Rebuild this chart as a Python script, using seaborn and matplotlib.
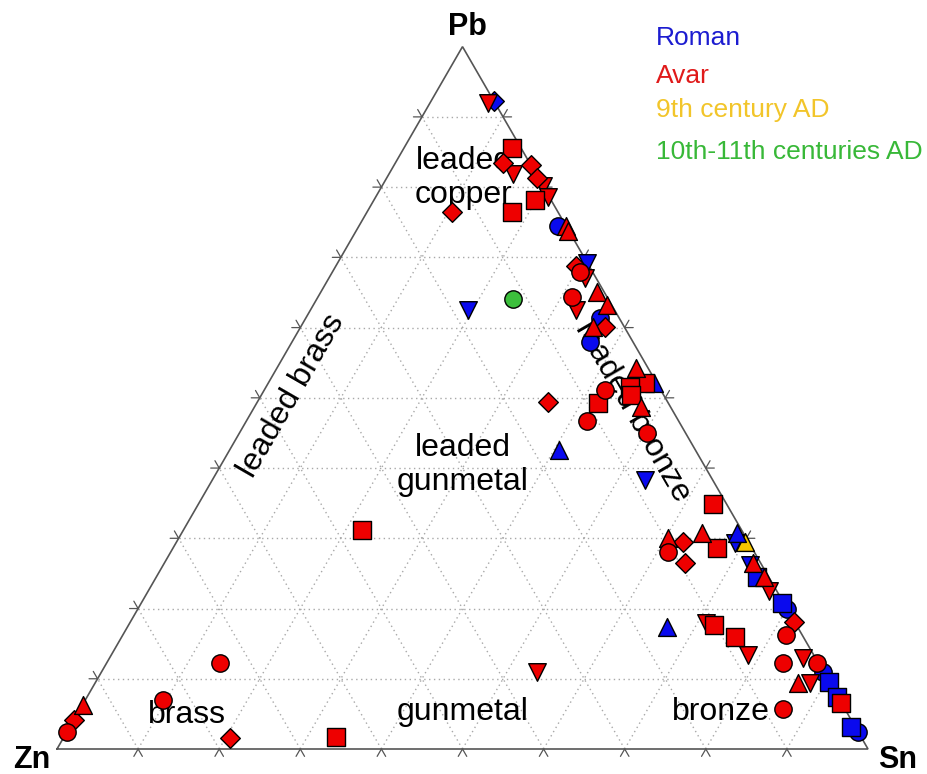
import numpy as np
import pandas as pd
import matplotlib
matplotlib.use("Agg")
import matplotlib.pyplot as plt
import seaborn as sns

sns.set_theme(style="white")
plt.rcParams['font.family'] = ['Liberation Sans', 'DejaVu Sans']

# Compositions in percent (Pb, Sn, Zn) with marker shape for each object
roman_marker = ['D', 'o', 'v', 'o', 'o', '^', 'v', '^', 'v', '^', 'v',
                'v', 's', 's', 'o', '^', 'o', 's', 's', 's', 'o']
roman_pb = [92.3, 74.4, 69.2, 61.4, 58.0, 52.1, 62.5, 42.6, 38.3, 30.8, 29.3,
            26.2, 24.5, 20.8, 19.9, 17.4, 11.0, 9.5, 7.4, 3.1, 2.4]
roman_sn = [7.7, 24.6, 30.8, 36.3, 36.7, 47.6, 19.4, 40.6, 53.3, 68.4, 68.9,
            72.3, 74.1, 79.0, 80.1, 66.5, 89.0, 90.5, 92.5, 96.4, 97.6]
roman_zn = [0.0, 1.0, 0.0, 2.3, 5.3, 0.3, 18.1, 16.8, 8.4, 0.8, 1.8,
            1.5, 1.4, 0.2, 0.0, 16.1, 0.0, 0.0, 0.1, 0.5, 0.0]

avar_marker = ['v', 's', 'D', 'v', 'D', 'D', 'v', 'v', 's', 's', 'D',
               '^', '^', 'D', 'o', 'v', 'o', 'v', '^', '^', '^', 'D',
               '^', 's', 's', 's', 'o', 's', '^', 'D', 'o', 'o',
               's', '^', 'D', 'o', 'D', '^', 's', '^', '^', 'v',
               'D', 'o', 'v', 's', 's', 'v', 'o', 'v', 'o', '^',
               'v', 's', 'o', 'o', 'o', 'D', 's', 'v', 's', 'o', 'D', '^']
avar_pb = [92.0, 85.6, 83.5, 81.8, 83.2, 81.3, 80.1, 78.6, 78.2, 76.5, 76.5,
           74.4, 73.8, 68.7, 67.9, 67.1, 64.4, 62.5, 65.0, 63.2, 60.1, 60.1,
           54.3, 52.1, 51.6, 50.4, 51.1, 49.3, 48.7, 49.4, 46.7, 45.0,
           34.9, 30.1, 29.5, 28.1, 26.5, 30.8, 28.6, 26.5, 24.5, 22.5,
           18.1, 16.2, 17.9, 17.7, 16.0, 13.4, 12.3, 13.0, 12.3, 9.4,
           9.4, 6.6, 5.7, 12.3, 7.0, 1.6, 1.7, 11.0, 31.2, 2.4, 4.1, 6.3]
avar_sn = [7.1, 13.3, 13.3, 15.3, 16.8, 18.5, 19.9, 21.2, 19.8, 17.9, 10.5,
           25.6, 26.1, 29.6, 30.5, 31.6, 31.3, 32.8, 34.1, 36.2, 36.0, 37.5,
           44.2, 46.5, 44.9, 45.6, 42.0, 42.1, 47.7, 35.8, 42.0, 50.2,
           63.4, 60.3, 62.5, 61.3, 64.2, 64.1, 67.1, 72.6, 74.9, 76.6,
           81.8, 81.8, 71.1, 72.1, 75.6, 78.5, 83.4, 85.5, 87.6, 86.7,
           88.1, 93.4, 86.7, 14.0, 9.6, 20.5, 33.6, 53.7, 22.0, 0.0, 0.0, 0.0]
avar_zn = [0.9, 1.1, 3.2, 2.9, 0.0, 0.2, 0.0, 0.2, 2.0, 5.6, 13.0,
           0.0, 0.1, 1.7, 1.6, 1.3, 4.3, 4.7, 0.9, 0.6, 3.9, 2.4,
           1.5, 1.4, 3.5, 4.0, 6.9, 8.6, 3.6, 14.8, 11.3, 4.8,
           1.7, 9.6, 8.0, 10.6, 9.3, 5.1, 4.3, 0.9, 0.6, 0.9,
           0.1, 2.0, 11.0, 10.2, 8.4, 8.1, 4.3, 1.5, 0.1, 3.9,
           2.5, 0.0, 7.6, 73.7, 83.4, 77.9, 64.7, 35.3, 46.8, 97.6, 95.9, 93.7]

c9_marker = ['^']
c9_pb = [29.5]
c9_sn = [70.1]
c9_zn = [0.4]

c10_marker = ['o']
c10_pb = [64.0]
c10_sn = [24.2]
c10_zn = [11.8]

periods = ['Roman', 'Avar', '9th century AD', '10th-11th centuries AD']
marker_colors = {'Roman': '#0a0aee', 'Avar': '#ee0000',
                 '9th century AD': '#f5c400', '10th-11th centuries AD': '#3cbf3c'}
label_colors = {'Roman': '#1c1cd0', 'Avar': '#e01a1a',
                '9th century AD': '#f2c52a', '10th-11th centuries AD': '#38b838'}
marker_area = {'o': 156, 's': 150, '^': 165, 'v': 160, 'D': 100}

H = np.sqrt(3) / 2


def to_xy(pb, sn, zn):
    pb, sn, zn = (np.asarray(a, float) for a in (pb, sn, zn))
    tot = pb + sn + zn
    pb, sn = pb / tot, sn / tot
    return sn + pb / 2, pb * H


frames = []
for name, mk, pb, sn, zn in [
        ('9th century AD', c9_marker, c9_pb, c9_sn, c9_zn),
        ('Roman', roman_marker, roman_pb, roman_sn, roman_zn),
        ('Avar', avar_marker, avar_pb, avar_sn, avar_zn),
        ('10th-11th centuries AD', c10_marker, c10_pb, c10_sn, c10_zn)]:
    x, y = to_xy(pb, sn, zn)
    frames.append(pd.DataFrame({'period': name, 'marker': mk, 'x': x, 'y': y}))
df = pd.concat(frames, ignore_index=True)

fig = plt.figure(figsize=(9.28, 7.74), dpi=100)
ax = fig.add_axes([0, 0, 1, 1])
ax.set_xlim(-57 / 811, 871 / 811)
ax.set_ylim(-25 / 811, 749 / 811)
ax.axis('off')

# dotted 10 % grid and edge tick chevrons
grid_kw = dict(color='#a8a8a8', lw=1.0, linestyle=(0, (1, 2.5)), zorder=1)
tick_kw = dict(color='#555555', lw=0.9, zorder=2)
L = 0.0105
for k in range(1, 10):
    f = k / 10
    ax.plot([f / 2, 1 - f / 2], [f * H, f * H], **grid_kw)
    ax.plot([f, (1 + f) / 2], [0, (1 - f) * H], **grid_kw)
    ax.plot([1 - f, (1 - f) / 2], [0, (1 - f) * H], **grid_kw)
    # base
    ax.plot([f - L / 2, f, f + L / 2], [-L * H, 0, -L * H], **tick_kw)
    # right edge
    xr, yr = 1 - f / 2, f * H
    ax.plot([xr + L, xr, xr + L / 2], [yr, yr, yr + L * H], **tick_kw)
    # left edge
    xl, yl = f / 2, f * H
    ax.plot([xl - L, xl, xl - L / 2], [yl, yl, yl + L * H], **tick_kw)

ax.plot([0, 1, 0.5, 0], [0, 0, H, 0], color='#555555', lw=1.2, zorder=2,
        solid_joinstyle='miter')

# alloy field names
def px(xp, yp):
    return (xp - 57) / 811, (749 - yp) / 811

fs = 23
txt_kw = dict(fontsize=fs, color='black', ha='center', va='center', zorder=2)
ax.text(*px(464, 178), 'leaded\ncopper', linespacing=1.2, **txt_kw)
ax.text(*px(463, 465), 'leaded\ngunmetal', linespacing=1.2, **txt_kw)
ax.text(*px(463, 712), 'gunmetal', **txt_kw)
ax.text(*px(187, 715), 'brass', **txt_kw)
ax.text(*px(721, 712), 'bronze', **txt_kw)
ax.text(*px(292, 396), 'leaded brass', rotation=60, rotation_mode='anchor', **txt_kw)
ax.text(*px(633, 412), 'leaded bronze', rotation=-60, rotation_mode='anchor', **txt_kw)

# vertex labels
vkw = dict(fontsize=22, fontweight='bold', ha='center', va='center', color='black')
ax.text(*px(467, 27), 'Pb', **vkw)
ax.text(*px(32, 760), 'Zn', **vkw)
ax.text(*px(898, 760), 'Sn', **vkw)

# points
for period in df['period'].unique():
    sub = df[df['period'] == period]
    for mk, grp in sub.groupby('marker', sort=False):
        sns.scatterplot(data=grp, x='x', y='y', marker=mk, s=marker_area[mk],
                        color=marker_colors[period], edgecolor='black',
                        linewidth=1.0, ax=ax, legend=False, zorder=3,
                        clip_on=False)

# period key
for name, yp in zip(periods, [38, 76, 110, 152]):
    ax.text(*px(656, yp), name, fontsize=19, color=label_colors[name],
            ha='left', va='center')

ax.set_xlabel('')
ax.set_ylabel('')
fig.savefig('out.png', dpi=100)
